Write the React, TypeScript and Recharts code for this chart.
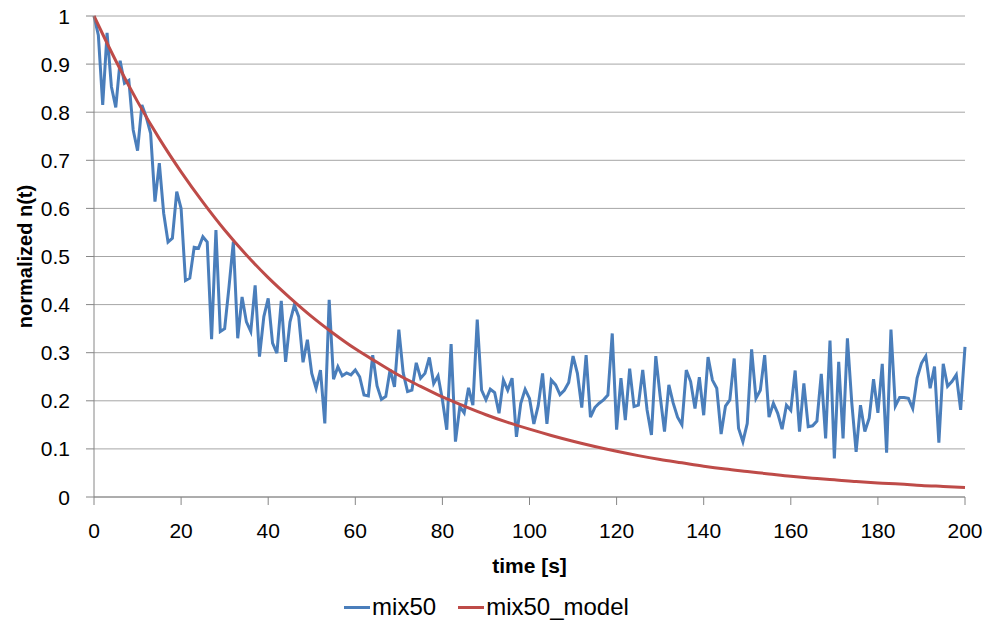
import { LineChart, Line, XAxis, YAxis, CartesianGrid, Legend } from 'recharts'

// mix50 measured, one value per second (t = 0..200)
const mix50 = [
  1.0, 0.96, 0.815, 0.965, 0.853, 0.81, 0.907, 0.86, 0.866, 0.763,
  0.72, 0.815, 0.79, 0.756, 0.614, 0.694, 0.59, 0.53, 0.538, 0.635,
  0.6, 0.45, 0.455, 0.519, 0.517, 0.541, 0.53, 0.328, 0.555, 0.344,
  0.35, 0.437, 0.531, 0.33, 0.416, 0.364, 0.344, 0.44, 0.292, 0.375,
  0.413, 0.32, 0.299, 0.408, 0.281, 0.364, 0.399, 0.375, 0.28, 0.327,
  0.257, 0.226, 0.264, 0.153, 0.41, 0.245, 0.271, 0.252, 0.258, 0.254,
  0.264, 0.25, 0.212, 0.21, 0.295, 0.231, 0.203, 0.209, 0.265, 0.229,
  0.348, 0.258, 0.219, 0.222, 0.279, 0.247, 0.257, 0.29, 0.236, 0.252,
  0.202, 0.14, 0.318, 0.115, 0.188, 0.175, 0.227, 0.191, 0.369, 0.222,
  0.202, 0.224, 0.217, 0.174, 0.243, 0.222, 0.247, 0.125, 0.195, 0.224,
  0.205, 0.152, 0.19, 0.257, 0.152, 0.243, 0.233, 0.213, 0.222, 0.238,
  0.293, 0.257, 0.186, 0.295, 0.166, 0.186, 0.195, 0.202, 0.212, 0.34,
  0.14, 0.247, 0.16, 0.267, 0.188, 0.191, 0.264, 0.181, 0.129, 0.293,
  0.21, 0.136, 0.233, 0.195, 0.166, 0.15, 0.264, 0.24, 0.184, 0.249,
  0.17, 0.291, 0.243, 0.226, 0.131, 0.189, 0.202, 0.288, 0.143, 0.115,
  0.153, 0.307, 0.205, 0.222, 0.295, 0.166, 0.195, 0.174, 0.141, 0.191,
  0.18, 0.263, 0.136, 0.236, 0.146, 0.148, 0.158, 0.256, 0.122, 0.325,
  0.08, 0.281, 0.122, 0.33, 0.196, 0.094, 0.191, 0.136, 0.164, 0.245,
  0.175, 0.277, 0.092, 0.348, 0.189, 0.207, 0.207, 0.205, 0.184, 0.247,
  0.278, 0.293, 0.226, 0.271, 0.113, 0.277, 0.23, 0.24, 0.254, 0.181,
  0.312,
]

// mix50_model, read every 5 s
const modelTimes = [
  0, 5, 10, 15, 20, 25, 30, 35, 40, 45, 50, 55, 60, 65, 70, 75, 80, 85, 90, 95, 100,
  105, 110, 115, 120, 125, 130, 135, 140, 145, 150, 155, 160, 165, 170, 175, 180, 185, 190, 195, 200,
]
const modelValues = [
  1.0, 0.907, 0.822, 0.745, 0.676, 0.613, 0.555, 0.503, 0.456, 0.414, 0.375, 0.34, 0.308, 0.28, 0.253,
  0.23, 0.208, 0.189, 0.171, 0.155, 0.141, 0.128, 0.116, 0.105, 0.095, 0.086, 0.078, 0.071, 0.064,
  0.058, 0.053, 0.048, 0.043, 0.039, 0.036, 0.032, 0.029, 0.027, 0.024, 0.022, 0.02,
]

const xTicks = [0, 20, 40, 60, 80, 100, 120, 140, 160, 180, 200]
const yTicks = [0, 0.1, 0.2, 0.3, 0.4, 0.5, 0.6, 0.7, 0.8, 0.9, 1]

const mixData = mix50.map((v, i) => ({ t: i, v }))
const modelData = modelTimes.map((t, i) => ({ t, v: modelValues[i] }))

const FONT = "'Liberation Sans', Arial, sans-serif"
const BLUE = '#4a7ebb'
const RED = '#be4b48'
const AXIS = '#868686'

function XTick({ x, y, payload }: any) {
  return (
    <text x={x} y={y} dy="0.72em" textAnchor="middle" fontFamily={FONT} fontSize={21} fill="#000">
      {payload.value}
    </text>
  )
}

function YTick({ x, y, payload }: any) {
  return (
    <text x={x} y={y} dy="0.36em" textAnchor="end" fontFamily={FONT} fontSize={21} fill="#000">
      {payload.value}
    </text>
  )
}

function YLabel({ viewBox }: any) {
  const cx = 25
  const cy = viewBox.y + viewBox.height / 2
  return (
    <text x={cx} y={cy} transform={`rotate(-90 ${cx} ${cy})`} textAnchor="middle" dominantBaseline="central"
      fontFamily={FONT} fontSize={20} fontWeight="bold" fill="#000">
      normalized n(t)
    </text>
  )
}

function LegendContent() {
  const items = [
    { name: 'mix50', color: BLUE },
    { name: 'mix50_model', color: RED },
  ]
  return (
    <div style={{ display: 'flex', justifyContent: 'center', gap: 22, fontFamily: FONT, fontSize: 24, marginLeft: 8, marginTop: 16 }}>
      {items.map((it) => (
        <div key={it.name} style={{ display: 'flex', alignItems: 'center', gap: 2 }}>
          <div style={{ width: 26, height: 3, background: it.color }} />
          <span>{it.name}</span>
        </div>
      ))}
    </div>
  )
}

export default function App() {
  return (
    <div style={{ position: 'absolute', left: 0, top: 0, background: '#fff' }}>
      <LineChart width={986} height={628} margin={{ top: 16, right: 21, bottom: 0, left: 0 }}>
        <CartesianGrid vertical={false} stroke="#a6a6a6" strokeWidth={1} />
        <XAxis dataKey="t" type="number" domain={[0, 200]} ticks={xTicks} allowDuplicatedCategory={false}
          height={80} stroke={AXIS} tickSize={8} tickMargin={18} tick={<XTick />}
          label={{ value: 'time [s]', position: 'insideBottom', offset: 4, fontFamily: FONT, fontSize: 21, fontWeight: 'bold', fill: '#000' }} />
        <YAxis type="number" domain={[0, 1]} ticks={yTicks} width={94} stroke={AXIS} tickSize={8} tickMargin={16}
          tick={<YTick />} label={<YLabel />} />
        <Legend verticalAlign="bottom" height={51} content={<LegendContent />} />
        <Line data={mixData} dataKey="v" name="mix50" type="linear" stroke={BLUE} strokeWidth={3} dot={false} isAnimationActive={false} />
        <Line data={modelData} dataKey="v" name="mix50_model" type="monotone" stroke={RED} strokeWidth={3} dot={false} isAnimationActive={false} />
      </LineChart>
    </div>
  )
}
